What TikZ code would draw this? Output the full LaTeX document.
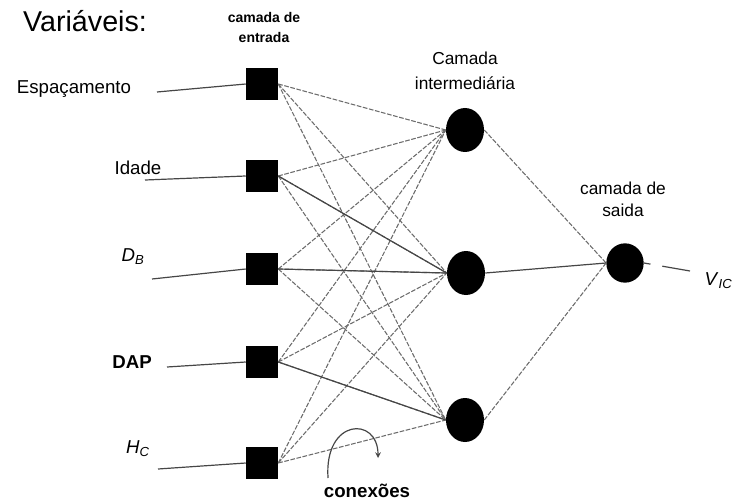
\documentclass[tikz,border=0pt]{standalone}
\usepackage{fontspec}
\setmainfont{Liberation Sans}
\usetikzlibrary{arrows,shapes.geometric,calc}

\begin{document}
\begin{tikzpicture}[
		x=0.75pt,y=-0.75pt,
		>=stealth,
		inputbox/.style={
			fill=black,
			rectangle,
			minimum size=24pt,
			inner sep=0pt
		},
		neuron/.style={
			fill=black,
			ellipse,
			minimum width=28.5pt,
			minimum height=33pt,
			inner sep=0pt
		},
		conn/.style={
			gray!85!black,
			line width=0.8pt,
			dash pattern=on 3.5pt off 1.2pt
		},
		wire/.style={
			gray!55!black,
			line width=0.9pt
		},
		varlabel/.style={
			font=\fontsize{14}{16}\selectfont
		},
		layerlabel/.style={
			align=center,
			font=\fontsize{13}{19}\selectfont
		}
		]
		\useasboundingbox (0,0) rectangle (737,502);
		\node[font=\fontsize{21.5}{24}\selectfont] (title) at (85,21) {Variáveis:};
		% camadas
		\node[align=center,font=\fontsize{10.5}{15}\selectfont\bfseries] (entrada) at (264,27) {camada de\\entrada};
		\node[layerlabel] (inter) at (465,71) {Camada\\intermediária};
		\node[layerlabel,font=\fontsize{13}{16.5}\selectfont] (saida) at (623,199) {camada de\\saida};
		\node[inputbox] (in1) at (262,84) {};
		\node[inputbox] (in2) at (262,176) {};
		\node[inputbox] (in3) at (262,269) {};
		\node[inputbox] (in4) at (262,362) {};
		\node[inputbox] (in5) at (262,463) {};
		\node[neuron] (h1) at (465,130) {};
		\node[neuron] (h2) at (466,273) {};
		\node[neuron] (h3) at (465,420) {};
		\node[neuron,minimum width=28pt,minimum height=29.5pt] (out) at (625,263) {};
		% variaveis
		\node[varlabel] (v1) at (74,89) {Espaçamento};
		\node[varlabel] (v2) at (138,168) {Idade};
		\node[varlabel] (v3) at (133,257) {\textit{D}\textsubscript{\textit{B}}};
		\node[varlabel,font=\fontsize{14}{16}\selectfont\bfseries] (v4) at (132,362) {DAP};
		\node[varlabel] (v5) at (138,449) {\textit{H}\textsubscript{\textit{C}}};
		\node[varlabel,anchor=west] (vic) at (700,281) {\textit{V}\textsubscript{\textit{IC}}};
		\coordinate (l1) at (157,92);
		\coordinate (l2) at (145,180);
		\coordinate (l3) at (152,279);
		\coordinate (l4) at (167,367);
		\coordinate (l5) at (158,469);
		\coordinate (lo) at (690,271);
		\foreach \i in {1,...,5}
			\draw[wire] (l\i) -- (in\i.west);
		\draw[wire,dash pattern=on 5pt off 9pt on 30pt off 10pt] (out.east) -- (lo);
		% conexoes
		\foreach \i in {1,...,5}
			\foreach \j in {1,2,3}
				\draw[conn] (in\i.east) -- (h\j.west);
		\draw[wire] (in2.east) -- (h2.west);
		\draw[wire] (in3.east) -- (h2.west);
		\draw[wire] (in4.east) -- (h3.west);
		\draw[conn] (h1.east) -- (out.west);
		\draw[wire] (h2.east) -- (out.west);
		\draw[conn] (h3.east) -- (out.west);
		\node[font=\fontsize{14}{16}\selectfont\bfseries] (conexoes) at (367,491) {conexões};
		\coordinate (c0) at (328,478);
		\coordinate (c1) at (378,458);
		\draw[->,wire] (c0) .. controls (324,418) and (378,416) .. (c1);
		\end{tikzpicture}
\end{document}
